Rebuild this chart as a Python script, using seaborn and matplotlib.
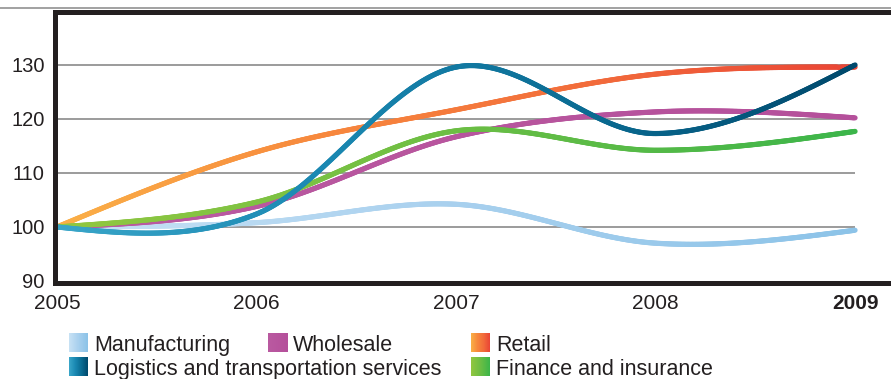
import numpy as np
import pandas as pd
import matplotlib
matplotlib.use("Agg")
import matplotlib.pyplot as plt
import seaborn as sns
from matplotlib.collections import LineCollection
from matplotlib.colors import LinearSegmentedColormap
from matplotlib.lines import Line2D

# Index values (2005 = 100)
years = [2005, 2006, 2007, 2008, 2009]
manufacturing = [100.0, 100.8, 104.2, 97.0, 99.4]
wholesale = [100.0, 103.8, 116.7, 121.3, 120.2]
retail = [100.0, 113.9, 121.7, 128.3, 129.6]
logistics = [100.0, 102.4, 129.6, 117.3, 130.0]
finance = [100.0, 104.6, 117.8, 114.2, 117.7]

series_names = ["Manufacturing", "Wholesale", "Retail",
                "Logistics and transportation services", "Finance and insurance"]
y_ticks = [90, 100, 110, 120, 130]
x_tick_labels = ["2005", "2006", "2007", "2008", "2009"]

# Colour ramps (left -> right) for each series
ramps = {
    "Manufacturing": ["#c8e2f5", "#a8d0ee", "#8cc3e8"],
    "Wholesale": ["#ba5aa1", "#b5509b"],
    "Retail": ["#fab047", "#f7883d", "#f26c3b", "#ea4535"],
    "Logistics and transportation services": ["#3aa6c9", "#1a88b2", "#0a6b92", "#00496c"],
    "Finance and insurance": ["#92c740", "#6cbe44", "#3cb54a"],
}
values = {
    "Manufacturing": manufacturing,
    "Wholesale": wholesale,
    "Retail": retail,
    "Logistics and transportation services": logistics,
    "Finance and insurance": finance,
}
draw_order = ["Manufacturing", "Wholesale", "Retail",
              "Finance and insurance", "Logistics and transportation services"]


def smooth_curve(x, y, xs):
    """Cardinal (Catmull-Rom) smoothing with natural end tangents."""
    x = np.asarray(x, float)
    y = np.asarray(y, float)
    n = len(x)
    h = np.diff(x)
    m = np.zeros(n)
    m[1:-1] = (y[2:] - y[:-2]) / (x[2:] - x[:-2])
    m[0] = (3 * (y[1] - y[0]) / h[0] - m[1]) / 2
    m[-1] = (3 * (y[-1] - y[-2]) / h[-1] - m[-2]) / 2
    idx = np.clip(np.searchsorted(x, xs, side="right") - 1, 0, n - 2)
    t = (xs - x[idx]) / h[idx]
    h00 = 2 * t ** 3 - 3 * t ** 2 + 1
    h10 = t ** 3 - 2 * t ** 2 + t
    h01 = -2 * t ** 3 + 3 * t ** 2
    h11 = t ** 3 - t ** 2
    return (h00 * y[idx] + h10 * h[idx] * m[idx]
            + h01 * y[idx + 1] + h11 * h[idx] * m[idx + 1])


sns.set_theme(style="white")
plt.rcParams["font.family"] = ["Liberation Sans", "DejaVu Sans"]

W, H = 891, 379
fig = plt.figure(figsize=(W / 100, H / 100), dpi=100)
ax = fig.add_axes([55 / W, 1 - 282.5 / H, 1 - 55 / W, (282.5 - 12) / H])

ax.set_xlim(2004.99, 2009.18)
ax.set_ylim(89.72, 139.8)

# grid lines spanning the data range only
ax.hlines([100, 110, 120, 130], years[0], years[-1], color="#8a8a8a", lw=1.2, zorder=1)

xs = np.linspace(years[0], years[-1], 600)
lw = 3.7
for name in draw_order:
    ys = smooth_curve(years, values[name], xs)
    df = pd.DataFrame({"year": xs, "value": ys})
    sns.lineplot(data=df, x="year", y="value", ax=ax, color=ramps[name][-1],
                 lw=lw, estimator=None, sort=False)
    line = ax.lines[-1]
    pts = np.column_stack(line.get_data()).reshape(-1, 1, 2)
    segs = np.concatenate([pts[:-1], pts[1:]], axis=1)
    cmap = LinearSegmentedColormap.from_list(name, ramps[name])
    lc = LineCollection(segs, cmap=cmap, linewidths=lw, capstyle="round",
                        joinstyle="round", zorder=3)
    lc.set_array((xs[:-1] + xs[1:]) / 2)
    lc.set_clim(years[0], years[-1])
    ax.add_collection(lc)
    line.set_visible(False)

ax.set_xlabel("")
ax.set_ylabel("")
ax.set_xticks(years)
ax.set_xticklabels(x_tick_labels)
ax.set_yticks(y_ticks)
ax.get_xticklabels()[-1].set_fontweight("bold")

for side in ["top", "left", "bottom"]:
    ax.spines[side].set_visible(True)
    ax.spines[side].set_color("#231f20")
    ax.spines[side].set_linewidth(3.6)
    ax.spines[side].set_zorder(4)
ax.spines["right"].set_visible(False)

ax.tick_params(axis="both", direction="inout", length=4, width=1, color="white",
               labelcolor="#231f20")
ax.tick_params(axis="y", pad=5.5, labelsize=14.5)
ax.tick_params(axis="x", pad=6.5, labelsize=15)
ax.xaxis.set_zorder(5)
ax.yaxis.set_zorder(5)
ax.set_facecolor("white")

# thin rule across the top of the figure
fig.add_artist(Line2D([0, 1], [1 - 8 / H, 1 - 8 / H], transform=fig.transFigure,
                      color="#9a9a9a", lw=1.3))

# legend with gradient swatches
legend_layout = [
    ("Manufacturing", 69, 333),
    ("Wholesale", 268, 333),
    ("Retail", 471, 333),
    ("Logistics and transportation services", 69, 357),
    ("Finance and insurance", 471, 357),
]
grad = np.linspace(0, 1, 64)[None, :]
for name, px, py in legend_layout:
    sw, sh = 19, 19
    pax = fig.add_axes([px / W, 1 - (py + sh) / H, sw / W, sh / H])
    pax.imshow(grad, cmap=LinearSegmentedColormap.from_list(name + "_sw", ramps[name]),
               aspect="auto")
    pax.set_axis_off()
    fig.text((px + 25) / W, 1 - (py + 18) / H, name, ha="left", va="baseline",
             fontsize=15.5, color="#231f20")

fig.savefig("out.png", dpi=100)
